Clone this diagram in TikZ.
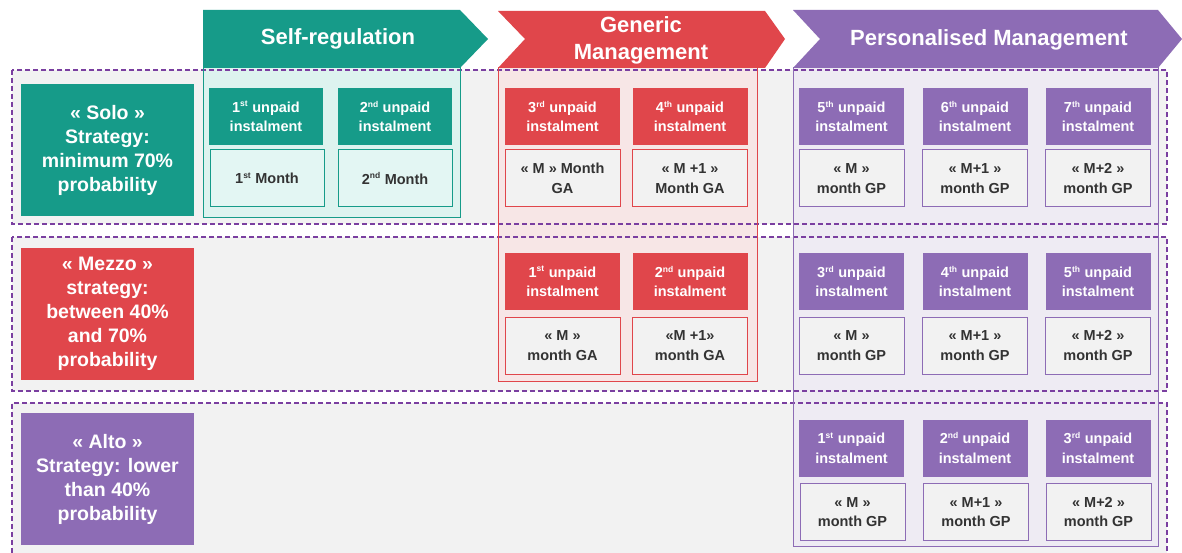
\documentclass[tikz,border=0pt]{standalone}
\usepackage{fontspec}
\setmainfont{Liberation Sans}
\definecolor{teal1}{HTML}{169B89}
\definecolor{red1}{HTML}{E0464B}
\definecolor{purp1}{HTML}{8D6CB5}
\definecolor{dashp}{HTML}{7A3FA0}
\definecolor{rowgray}{HTML}{F2F2F2}
\definecolor{srfill}{HTML}{DDF3EF}
\definecolor{srmonth}{HTML}{E3F6F3}
\definecolor{gmfill}{HTML}{F7E6E6}
\definecolor{pmfill}{HTML}{EEEBF3}
\definecolor{monthtxt}{HTML}{333333}
\tikzset{
  rowdash/.style={draw=dashp, line width=1.2pt, dash pattern=on 5pt off 3pt},
  hdrtext/.style={text=white, font=\fontsize{22}{27}\selectfont\bfseries, align=center, inner sep=0pt},
  strat/.style={minimum width=173pt, minimum height=132pt, inner sep=0pt, align=center, text=white,
     font=\fontsize{19.5}{24}\selectfont\bfseries},
  inst/.style={minimum height=57pt, inner sep=0pt, align=center, text=white,
     font=\fontsize{14.5}{19.5}\selectfont\bfseries},
  month/.style={minimum height=57pt, inner sep=0pt, align=center, text=monthtxt, line width=1pt,
     font=\fontsize{14.5}{19.5}\selectfont\bfseries},
  srinst/.style={inst, fill=teal1, minimum width=114pt},
  srmon/.style={month, fill=srmonth, draw=teal1, minimum width=114pt},
  gminst/.style={inst, fill=red1, minimum width=115pt},
  gmmon/.style={month, fill=rowgray, draw=red1, minimum width=115pt},
  pminst/.style={inst, fill=purp1, minimum width=105pt},
  pmmon/.style={month, fill=rowgray, draw=purp1, minimum width=105pt},
}
\newcommand\sps[1]{\textsuperscript{\fontsize{8.5}{9}\selectfont #1}}
\begin{document}
\begin{tikzpicture}[x=1pt,y=-1pt]
\useasboundingbox (0,0) rectangle (1182,553);
\fill[white] (0,0) rectangle (1182,553);
% row backgrounds
\fill[rowgray] (12,70) rectangle (1167,224);
\fill[rowgray] (12,237) rectangle (1167,391);
\fill[rowgray] (12,403) rectangle (1167,553);
% column containers (fill)
\fill[srfill] (203,68) rectangle (460,218);
\fill[gmfill] (498,68) rectangle (757,381);
\fill[pmfill] (793,68) rectangle (1158,546);
% dashed row frames
\draw[rowdash] (12,70) rectangle (1167,224);
\draw[rowdash] (12,237) rectangle (1167,391);
\draw[rowdash] (12,553) -- (12,403) -- (1167,403) -- (1167,553);
% container borders
\draw[teal1, line width=1pt] (203,68) rectangle (460,218);
\draw[red1, line width=1pt] (498,68) rectangle (757,381);
\draw[purp1, line width=1pt] (793,68) rectangle (1158,546);
% header arrows
\fill[teal1] (203,10) -- (460,10) -- (488,39) -- (460,68) -- (203,68) -- cycle;
\fill[red1] (498,11) -- (765,11) -- (785,39) -- (765,68) -- (498,68) -- (525,39) -- cycle;
\fill[purp1] (793,10) -- (1158,10) -- (1182,39) -- (1158,68) -- (793,68) -- (820,39) -- cycle;
\node[hdrtext] (hsr) at (338,39) {Self-regulation};
\node[hdrtext] (hgm) at (641,40) {Generic\\Management};
\node[hdrtext] (hpm) at (989,40) {Personalised Management};
% strategy boxes
\node[strat, fill=teal1] (solo) at (107.5,150) {« Solo »\\Strategy:\\minimum 70\%\\probability};
\node[strat, fill=red1] (mezzo) at (107.5,314) {« Mezzo »\\strategy:\\between 40\%\\and 70\%\\probability};
\node[strat, fill=purp1] (alto) at (107.5,479) {« Alto »\\Strategy: lower\\than 40\%\\probability};
% row 1 - self regulation
\node[srinst] (s1i) at (266,116.5) {1\sps{st} unpaid\\instalment};
\node[srmon] (s1m) at (267,178.5) {1\sps{st} Month};
\node[srinst] (s2i) at (395,116.5) {2\sps{nd} unpaid\\instalment};
\node[srmon] (s2m) at (395,178.5) {2\sps{nd} Month};
% row 1 - generic
\node[gminst] (g1i) at (562.5,116.5) {3\sps{rd} unpaid\\instalment};
\node[gmmon] (g1m) at (562.5,178.5) {« M » Month\\GA};
\node[gminst] (g2i) at (690,116.5) {4\sps{th} unpaid\\instalment};
\node[gmmon] (g2m) at (690,178.5) {« M +1 »\\Month GA};
% row 1 - personalised
\node[pminst] (p1i) at (851.5,116.5) {5\sps{th} unpaid\\instalment};
\node[pmmon] (p1m) at (851.5,178.5) {« M »\\month GP};
\node[pminst] (p2i) at (975,116.5) {6\sps{th} unpaid\\instalment};
\node[pmmon] (p2m) at (975,178.5) {« M+1 »\\month GP};
\node[pminst] (p3i) at (1098,116.5) {7\sps{th} unpaid\\instalment};
\node[pmmon] (p3m) at (1098,178.5) {« M+2 »\\month GP};
% row 2 - generic
\node[gminst] (g3i) at (562.5,281.5) {1\sps{st} unpaid\\instalment};
\node[gmmon] (g3m) at (562.5,345.5) {« M »\\month GA};
\node[gminst] (g4i) at (690,281.5) {2\sps{nd} unpaid\\instalment};
\node[gmmon] (g4m) at (690,345.5) {«M +1»\\month GA};
% row 2 - personalised
\node[pminst] (p4i) at (851.5,281.5) {3\sps{rd} unpaid\\instalment};
\node[pmmon] (p4m) at (851.5,345.5) {« M »\\month GP};
\node[pminst] (p5i) at (975,281.5) {4\sps{th} unpaid\\instalment};
\node[pmmon] (p5m) at (975,345.5) {« M+1 »\\month GP};
\node[pminst] (p6i) at (1098,281.5) {5\sps{th} unpaid\\instalment};
\node[pmmon] (p6m) at (1098,345.5) {« M+2 »\\month GP};
% row 3 - personalised
\node[pminst] (p7i) at (851.5,448) {1\sps{st} unpaid\\instalment};
\node[pmmon] (p7m) at (852.5,512) {« M »\\month GP};
\node[pminst] (p8i) at (975,448) {2\sps{nd} unpaid\\instalment};
\node[pmmon] (p8m) at (976,512) {« M+1 »\\month GP};
\node[pminst] (p9i) at (1098,448) {3\sps{rd} unpaid\\instalment};
\node[pmmon] (p9m) at (1098.5,512) {« M+2 »\\month GP};
\end{tikzpicture}
\end{document}
